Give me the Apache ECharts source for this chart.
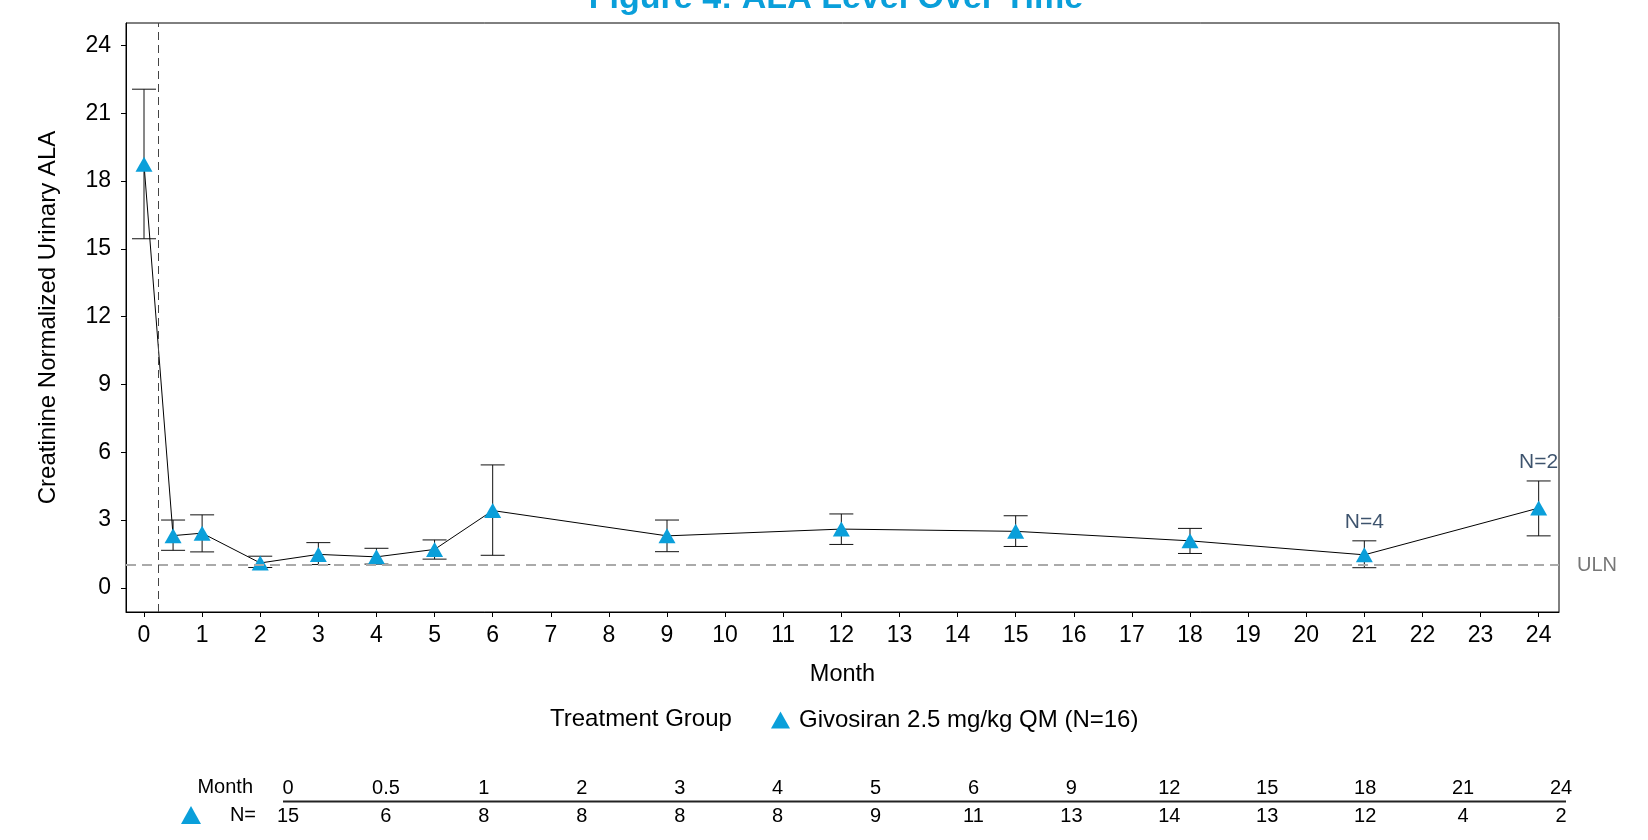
<!DOCTYPE html>
<html>
<head>
<meta charset="utf-8">
<script src="https://cdn.jsdelivr.net/npm/echarts@6/dist/echarts.min.js"></script>
<style>
html,body{margin:0;padding:0;background:#fff;}
#chart{width:1648px;height:840px;}
</style>
</head>
<body>
<div id="chart"></div>
<script>
// ---- data ----
var months = [0, 0.5, 1, 2, 3, 4, 5, 6, 9, 12, 15, 18, 21, 24];
var means  = [18.75, 2.31, 2.42, 1.10, 1.48, 1.37, 1.70, 3.42, 2.30, 2.60, 2.50, 2.08, 1.46, 3.53];
var lower  = [15.45, 1.66, 1.59, 0.90, 1.03, 1.05, 1.27, 1.44, 1.60, 1.92, 1.83, 1.52, 0.89, 2.30];
var upper  = [22.07, 3.00, 3.23, 1.40, 2.00, 1.75, 2.12, 5.44, 3.00, 3.27, 3.19, 2.63, 2.08, 4.73];
var nCounts = [15, 6, 8, 8, 8, 8, 9, 11, 13, 14, 13, 12, 4, 2];
var annoMonths = [21, 24];
var annoText = ['N=4', 'N=2'];
var yTicks = [0, 3, 6, 9, 12, 15, 18, 21, 24];
var xTicks = [0,1,2,3,4,5,6,7,8,9,10,11,12,13,14,15,16,17,18,19,20,21,22,23,24];
var uln = 1;
var baselineRef = 0.25;
var seriesName = 'Givosiran 2.5 mg/kg QM (N=16)';
var blue = '#0A9FDA';
var FONT = 'Liberation Sans, Arial, sans-serif';

var meanData = months.map(function (m, i) { return [m, means[i]]; });
var errData = months.map(function (m, i) { return [m, lower[i], upper[i]]; });
var annoData = annoMonths.map(function (m) {
  var i = months.indexOf(m);
  return [m, upper[i]];
});

var chart = echarts.init(document.getElementById('chart'), null, {renderer: 'canvas'});

var option = {
  animation: false,
  backgroundColor: '#fff',
  textStyle: {fontFamily: FONT, color: '#000'},
  legend: {
    data: [seriesName],
    left: 771,
    top: 708,
    padding: 0,
    icon: 'triangle',
    itemWidth: 19,
    itemHeight: 17,
    itemGap: 10,
    textStyle: {fontFamily: FONT, fontSize: 24, color: '#000', padding: [0, 0, 0, 4]}
  },
  grid: [
    {left: 126, right: 89, top: 23, bottom: 228, show: true, borderColor: '#000', borderWidth: 1, containLabel: false},
    {left: 288, right: 87, top: 801, height: 1, show: false}
  ],
  xAxis: [
    {
      type: 'value', gridIndex: 0, min: -0.31, max: 24.35,
      name: 'Month', nameLocation: 'middle', nameGap: 51,
      nameTextStyle: {fontFamily: FONT, fontSize: 23.5, color: '#000'},
      axisLine: {show: true, onZero: false, lineStyle: {color: '#000', width: 1}},
      axisTick: {show: true, length: 5, customValues: xTicks, lineStyle: {color: '#000'}},
      axisLabel: {fontFamily: FONT, fontSize: 23, color: '#000', margin: 12, customValues: xTicks},
      splitLine: {show: false}
    },
    {
      type: 'category', gridIndex: 1, position: 'top', boundaryGap: false,
      data: months.map(String),
      axisLine: {show: false}, axisTick: {show: false},
      axisLabel: {fontFamily: FONT, fontSize: 20, color: '#000', margin: 3, interval: 0}
    },
    {
      type: 'category', gridIndex: 1, position: 'bottom', boundaryGap: false,
      data: nCounts.map(String),
      axisLine: {show: false}, axisTick: {show: false},
      axisLabel: {fontFamily: FONT, fontSize: 20, color: '#000', margin: 4, interval: 0}
    }
  ],
  yAxis: [
    {
      type: 'value', gridIndex: 0, min: -1.07, max: 25,
      name: 'Creatinine Normalized Urinary ALA', nameLocation: 'middle', nameGap: 66, nameRotate: 90,
      nameTextStyle: {fontFamily: FONT, fontSize: 24, color: '#000'},
      axisLine: {show: true, onZero: false, lineStyle: {color: '#000', width: 1}},
      axisTick: {show: true, length: 5, customValues: yTicks, lineStyle: {color: '#000'}},
      axisLabel: {fontFamily: FONT, fontSize: 23, color: '#000', margin: 15, customValues: yTicks},
      splitLine: {show: false}
    },
    {type: 'value', gridIndex: 1, show: false, min: 0, max: 1}
  ],
  series: [
    {
      name: 'errorbars',
      type: 'custom',
      xAxisIndex: 0, yAxisIndex: 0,
      z: 2,
      silent: true,
      data: errData,
      renderItem: function (params, api) {
        var x = api.value(0);
        var lo = api.coord([x, api.value(1)]);
        var hi = api.coord([x, api.value(2)]);
        var hw = 12;
        var st = {stroke: '#111', lineWidth: 1};
        return {
          type: 'group',
          children: [
            {type: 'line', shape: {x1: lo[0], y1: lo[1], x2: hi[0], y2: hi[1]}, style: st},
            {type: 'line', shape: {x1: lo[0] - hw, y1: lo[1], x2: lo[0] + hw, y2: lo[1]}, style: st},
            {type: 'line', shape: {x1: hi[0] - hw, y1: hi[1], x2: hi[0] + hw, y2: hi[1]}, style: st}
          ]
        };
      }
    },
    {
      name: seriesName,
      type: 'line',
      xAxisIndex: 0, yAxisIndex: 0,
      z: 3,
      data: meanData,
      symbol: 'triangle',
      symbolSize: [17, 15],
      itemStyle: {color: blue},
      lineStyle: {color: '#000', width: 1},
      markLine: {
        silent: true,
        symbol: ['none', 'none'],
        data: [
          {
            yAxis: uln,
            lineStyle: {color: '#aaa', type: [10, 6], width: 2},
            label: {show: true, position: 'end', formatter: 'ULN', distance: 18,
                    fontFamily: FONT, fontSize: 20, color: '#777'}
          },
          {
            xAxis: baselineRef,
            lineStyle: {color: '#444', type: [8, 5], width: 1},
            label: {show: false}
          }
        ]
      }
    },
    {
      name: 'annotations',
      type: 'scatter',
      xAxisIndex: 0, yAxisIndex: 0,
      z: 4,
      silent: true,
      symbolSize: 0,
      data: annoData,
      label: {
        show: true, position: 'top', distance: 8,
        fontFamily: FONT, fontSize: 21, color: '#0C2848',
        formatter: function (p) { return annoText[p.dataIndex]; }
      }
    }
  ],
  graphic: [
    {type: 'text', x: 836, y: -1, style: {text: 'Figure 4: ALA Level Over Time', font: 'bold 34px ' + FONT, fill: blue, align: 'center', verticalAlign: 'middle'}},
    {type: 'text', x: 550, y: 719, style: {text: 'Treatment Group', font: '24px ' + FONT, fill: '#000', verticalAlign: 'middle'}},
    {type: 'line', shape: {x1: 283, y1: 801.5, x2: 1566, y2: 801.5}, style: {stroke: '#222', lineWidth: 2}},
    {type: 'text', x: 253, y: 787.5, style: {text: 'Month', font: '20px ' + FONT, fill: '#000', align: 'right', verticalAlign: 'middle'}},
    {type: 'text', x: 256, y: 815.5, style: {text: 'N=', font: '20px ' + FONT, fill: '#000', align: 'right', verticalAlign: 'middle'}},
    {type: 'polygon', shape: {points: [[181, 824], [201, 824], [191, 806]]}, style: {fill: blue}}
  ]
};
chart.setOption(option);
</script>
</body>
</html>
